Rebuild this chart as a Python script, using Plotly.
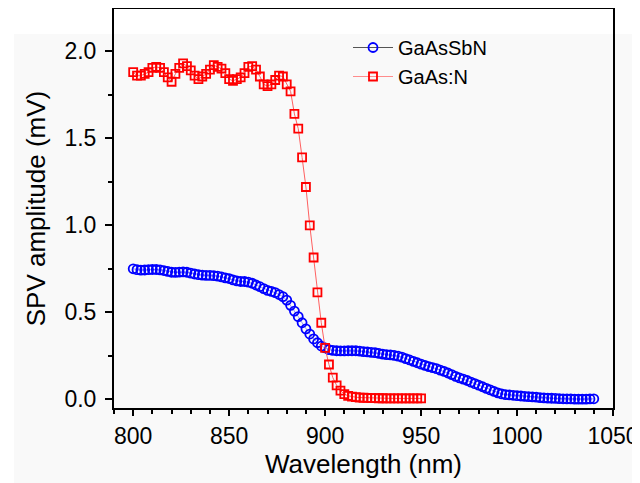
import plotly.graph_objects as go

# ---- data ----
wl_sbn = [800, 802, 804, 806, 808, 810, 812, 814, 816, 818, 820, 822, 824, 826, 828, 830,
          832, 834, 836, 838, 840, 842, 844, 846, 848, 850, 852, 854, 856, 858, 860, 862,
          864, 866, 868, 870, 872, 874, 876, 878, 880, 882, 884, 886, 888, 890, 892, 894,
          896, 898, 900, 902, 904, 906, 908, 910, 912, 914, 916, 918, 920, 922, 924, 926,
          928, 930, 932, 934, 936, 938, 940, 942, 944, 946, 948, 950, 952, 954, 956, 958,
          960, 962, 964, 966, 968, 970, 972, 974, 976, 978, 980, 982, 984, 986, 988, 990,
          992, 994, 996, 998, 1000, 1002, 1004, 1006, 1008, 1010, 1012, 1014, 1016, 1018,
          1020, 1022, 1024, 1026, 1028, 1030, 1032, 1034, 1036, 1038, 1040]
spv_sbn = [0.750, 0.745, 0.742, 0.743, 0.745, 0.746, 0.746, 0.744, 0.740, 0.735, 0.730,
           0.729, 0.731, 0.732, 0.730, 0.725, 0.720, 0.716, 0.714, 0.712, 0.712, 0.711,
           0.708, 0.703, 0.698, 0.694, 0.686, 0.680, 0.677, 0.677, 0.673, 0.667, 0.657,
           0.647, 0.636, 0.626, 0.620, 0.613, 0.602, 0.590, 0.570, 0.540, 0.507, 0.475,
           0.440, 0.405, 0.375, 0.347, 0.325, 0.306, 0.295, 0.285, 0.281, 0.279, 0.278,
           0.278, 0.279, 0.279, 0.279, 0.277, 0.274, 0.272, 0.270, 0.268, 0.264, 0.260,
           0.257, 0.255, 0.252, 0.248, 0.242, 0.234, 0.226, 0.218, 0.210, 0.202, 0.195,
           0.188, 0.182, 0.176, 0.168, 0.160, 0.151, 0.142, 0.132, 0.123, 0.116, 0.108,
           0.099, 0.090, 0.081, 0.072, 0.063, 0.054, 0.045, 0.037, 0.031, 0.027, 0.025,
           0.023, 0.021, 0.019, 0.017, 0.015, 0.014, 0.012, 0.010, 0.008, 0.007, 0.006,
           0.005, 0.004, 0.003, 0.002, 0.002, 0.001, 0.001, 0.001, 0.001, 0.002, 0.003]

wl_gan = [800, 802, 804, 806, 808, 810, 812, 814, 816, 818, 820, 822, 824, 826, 828, 830,
          832, 834, 836, 838, 840, 842, 844, 846, 848, 850, 852, 854, 856, 858, 860, 862,
          864, 866, 868, 870, 872, 874, 876, 878, 880, 882, 884, 886, 888, 890, 892, 894,
          896, 898, 900, 902, 904, 906, 908, 910, 912, 914, 916, 918, 920, 922, 924, 926,
          928, 930, 932, 934, 936, 938, 940, 942, 944, 946, 948, 950]
spv_gan = [1.880, 1.860, 1.860, 1.870, 1.880, 1.905, 1.910, 1.905, 1.880, 1.850, 1.825,
           1.870, 1.905, 1.930, 1.915, 1.890, 1.860, 1.840, 1.855, 1.870, 1.895, 1.920,
           1.910, 1.900, 1.875, 1.840, 1.830, 1.840, 1.850, 1.875, 1.910, 1.915, 1.895,
           1.855, 1.810, 1.800, 1.810, 1.835, 1.860, 1.855, 1.810, 1.770, 1.640, 1.555,
           1.390, 1.220, 1.000, 0.815, 0.615, 0.440, 0.295, 0.200, 0.125, 0.080, 0.050,
           0.030, 0.020, 0.015, 0.012, 0.010, 0.009, 0.008, 0.007, 0.007, 0.006, 0.006,
           0.005, 0.005, 0.005, 0.005, 0.005, 0.005, 0.005, 0.005, 0.005, 0.005]

x_ticks = [800, 850, 900, 950, 1000, 1050]
y_ticks = [0.0, 0.5, 1.0, 1.5, 2.0]

FONT = "Arial, Liberation Sans, sans-serif"
SBN_MARKER = dict(symbol="circle-open", size=9, color="#0000ff", line=dict(width=1.8))
GAN_MARKER = dict(symbol="square-open", size=8, color="#ff0000", line=dict(width=1.8))

fig = go.Figure()
# data traces
fig.add_trace(go.Scatter(
    x=wl_sbn, y=spv_sbn, name="GaAsSbN", mode="lines+markers", legendgroup="sbn",
    showlegend=False, line=dict(color="rgba(0,0,255,0.5)", width=0.8), marker=SBN_MARKER,
))
fig.add_trace(go.Scatter(
    x=wl_gan, y=spv_gan, name="GaAs:N", mode="lines+markers", legendgroup="gan",
    showlegend=False, line=dict(color="#ff6060", width=1), marker=GAN_MARKER,
))
# legend entries (no marks of their own)
fig.add_trace(go.Scatter(
    x=[None], y=[None], name="GaAsSbN", mode="lines+markers", legendgroup="sbn",
    line=dict(color="#555555", width=1.2), marker=SBN_MARKER,
))
fig.add_trace(go.Scatter(
    x=[None], y=[None], name="GaAs:N", mode="lines+markers", legendgroup="gan",
    line=dict(color="#ff8c8c", width=1.2), marker=GAN_MARKER,
))

# page has an 8px body margin: figure coords = page coords - 8
W, H = 632, 475
L, T = 106, 1
R = W - 605
B = H - 400
pw, ph = W - L - R, H - T - B
fig.add_shape(type="rect", xref="paper", yref="paper", layer="below",
              x0=(6 - L) / pw, x1=(W - L) / pw,
              y0=-B / ph - 0.05, y1=(T + ph - 26) / ph,
              fillcolor="#f9f9f9", line=dict(width=0))

axis_common = dict(
    showline=True, linecolor="black", linewidth=2, mirror=True,
    ticks="outside", tickcolor="black", tickwidth=2,
    showgrid=False, zeroline=False,
    tickfont=dict(family=FONT, size=23, color="black"),
)
fig.update_xaxes(
    **axis_common, range=[790, 1050], tickvals=x_ticks, ticklen=6,
    minor=dict(dtick=10, tick0=800, ticks="outside", ticklen=4, tickwidth=1.5, tickcolor="black", showgrid=False),
    title=dict(text="Wavelength (nm)", font=dict(family=FONT, size=26, color="black"), standoff=6),
)
fig.update_yaxes(
    **axis_common, range=[-0.05, 2.243], tickvals=y_ticks, tickformat=".1f", ticklen=7,
    ticklabelstandoff=4,
    minor=dict(dtick=0.25, tick0=0, ticks="outside", ticklen=4, tickwidth=1.5, tickcolor="black", showgrid=False),
    title=dict(text="SPV amplitude (mV)", font=dict(family=FONT, size=26, color="black"), standoff=11),
)
fig.update_layout(
    width=W, height=H,
    margin=dict(l=L, r=R, t=T, b=B, autoexpand=False),
    paper_bgcolor="white", plot_bgcolor="rgba(0,0,0,0)",
    showlegend=True,
    legend=dict(x=(340 - L) / pw, y=(T + ph - 20) / ph, xanchor="left", yanchor="top",
                bgcolor="rgba(0,0,0,0)", font=dict(family=FONT, size=20, color="black"),
                itemwidth=40, tracegroupgap=0),
)
fig.write_html("out.html")
